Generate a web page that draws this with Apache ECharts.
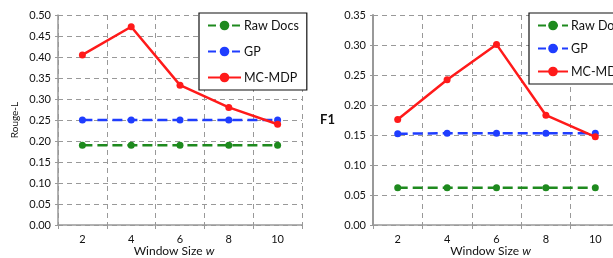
<!DOCTYPE html>
<html><head><meta charset="utf-8">
<script src="https://cdn.jsdelivr.net/npm/echarts@6/dist/echarts.min.js"></script>
<style>html,body{margin:0;padding:0;background:#fff}#c{width:613px;height:258px}</style>
</head><body><div id="c"></div>
<script>
const categories = ['2','4','6','8','10'];
const seriesNames = ['Raw Docs','GP','MC-MDP'];
const rougeRaw = [0.19,0.19,0.19,0.19,0.19];
const rougeGP = [0.25,0.25,0.25,0.25,0.25];
const rougeMC = [0.405,0.472,0.333,0.28,0.24];
const f1Raw = [0.062,0.062,0.062,0.062,0.062];
const f1GP = [0.152,0.153,0.153,0.153,0.153];
const f1MC = [0.176,0.242,0.301,0.183,0.147];

const colors = ['#1e8a1e','#1f3dff','#ff1a1a'];
const types = ['dashed','dashed','solid'];
const font = 'Lato, "Open Sans", sans-serif';
const chart = echarts.init(document.getElementById('c'));

function mkSeries(data, i, idx){
  return {name: seriesNames[i], type:'line', xAxisIndex: idx, yAxisIndex: idx, data: data,
    symbol:'circle', symbolSize:7, color: colors[i],
    lineStyle:{color:colors[i], width:2.5, type: types[i]},
    itemStyle:{color:colors[i]}, z: 3+i, animation:false};
}
function xAx(idx){
  return {type:'category', gridIndex: idx, data: categories, boundaryGap:true,
    axisLine:{lineStyle:{color:'#999', width: 1.5}},
    axisTick:{show:true, inside:false, length:4, alignWithLabel:false, lineStyle:{color:'#999'}},
    axisLabel:{color:'#111', fontSize:11, fontFamily:font, margin:9},
    splitLine:{show:true, lineStyle:{color:'#999', type:[5,4], width:1}},
    name:'Window Size {i|w}', nameLocation:'middle', nameGap:20, nameMoveOverlap:false,
    nameTextStyle:{color:'#111', fontSize:12, fontFamily:font, padding:[0,12,0,0], rich:{i:{fontStyle:'italic', fontSize:12, fontFamily:font, color:'#111'}}}
  };
}
function yAx(idx, max, name, nameStyle, rot, gap){
  return {type:'value', gridIndex: idx, min:0, max:max, interval:0.05,
    axisLine:{show:true, lineStyle:{color:'#999', width: idx?2:1.5}},
    axisTick:{show:true, length:3, lineStyle:{color:'#999'}},
    axisLabel:{color:'#111', fontSize:11, fontFamily:font, margin:7, formatter: v => v.toFixed(2)},
    splitLine:{show:true, lineStyle:{color:'#999', type:[5,4], width:1}},
    name:name, nameLocation:'middle', nameRotate:rot, nameGap:gap, nameMoveOverlap:false, nameTextStyle:nameStyle
  };
}
function legend(left, gap, width){
  return {orient:'vertical', left:left, top:13, data: seriesNames.map(n=>({name:n})),
    itemWidth: width, itemHeight:12, itemGap: gap, padding:[6,8,6,8],
    borderColor:'#111', borderWidth:1.2, backgroundColor:'#fff',
    textStyle:{color:'#111', fontSize:12.5, fontFamily:font, padding:[0,0,0,-2]}};
}
chart.setOption({
  animation:false,
  grid:[{left:58, width:244, top:15, height:210, outerBoundsMode:'none', containLabel:false},
        {left:373, width:247, top:15, height:210, outerBoundsMode:'none', containLabel:false}],
  xAxis:[xAx(0), xAx(1)],
  yAxis:[
    yAx(0, 0.5, 'Rouge-L', {color:'#111', fontSize:10, fontFamily:font}, 90, 38),
    yAx(1, 0.35, 'F1', {color:'#111', fontSize:13, fontWeight:'bold', fontFamily:font}, 0, 38)
  ],
  legend:[ legend(199, 13, 33), legend(529, 10, 30) ],
  series:[
    mkSeries(rougeRaw,0,0), mkSeries(rougeGP,1,0), mkSeries(rougeMC,2,0),
    mkSeries(f1Raw,0,1), mkSeries(f1GP,1,1), mkSeries(f1MC,2,1)
  ]
});
</script></body></html>
